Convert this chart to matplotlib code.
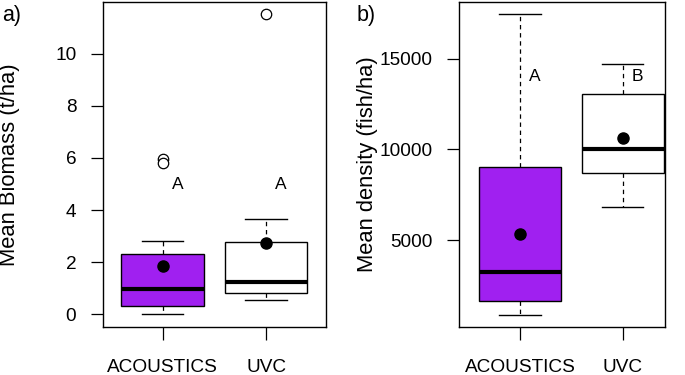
import matplotlib
matplotlib.use("Agg")
import matplotlib.pyplot as plt

plt.rcParams["font.family"] = ["Liberation Sans", "DejaVu Sans"]

# valores
metodos = ["ACOUSTICS", "UVC"]
colores = ["#A020F0", "white"]

# a) biomasa media (t/ha)
bio_min = [0.0, 0.56]
bio_q1 = [0.33, 0.83]
bio_med = [0.98, 1.25]
bio_q3 = [2.30, 2.76]
bio_max = [2.83, 3.65]
bio_media = [1.86, 2.72]
bio_atipicos = [[5.96, 5.82], [11.53]]
bio_letras = ["A", "A"]
bio_letra_y = 5.0

# b) densidad media (fish/ha)
den_min = [908, 6834]
den_q1 = [1641, 8706]
den_med = [3238, 10028]
den_q3 = [9036, 13040]
den_max = [17483, 14730]
den_media = [5369, 10655]
den_atipicos = [[], []]
den_letras = ["A", "B"]
den_letra_y = 14000


def dibujar_panel(ax, mins, q1s, meds, q3s, maxs, medias, atipicos, letras, letra_y):
    stats = []
    for i in range(len(metodos)):
        stats.append({
            "whislo": mins[i], "q1": q1s[i], "med": meds[i],
            "q3": q3s[i], "whishi": maxs[i], "fliers": atipicos[i],
            "label": metodos[i],
        })
    pos = list(range(1, len(metodos) + 1))
    cajas = ax.bxp(stats, positions=pos, widths=0.8, capwidths=0.4,
                   patch_artist=True, showfliers=True,
                   boxprops=dict(edgecolor="black", linewidth=1.0),
                   medianprops=dict(color="black", linewidth=3.0, solid_capstyle="butt"),
                   whiskerprops=dict(color="black", linewidth=0.9, linestyle=(0, (3.5, 3))),
                   capprops=dict(color="black", linewidth=1.0),
                   flierprops=dict(marker="o", markersize=7.5, markerfacecolor="white",
                                   markeredgecolor="black", markeredgewidth=0.9))
    for caja, color in zip(cajas["boxes"], colores):
        caja.set_facecolor(color)
    ax.plot(pos, medias, "o", color="black", markersize=8, zorder=5)
    for i in range(len(letras)):
        ax.text(pos[i] + 0.145, letra_y, letras[i], ha="center", va="center", fontsize=12.5)
    ax.tick_params(direction="out", length=9, width=0.9, labelsize=13.7)
    ax.tick_params(axis="x", pad=14)
    ax.tick_params(axis="y", pad=10)
    for lado in ax.spines.values():
        lado.set_linewidth(1.0)


fig = plt.figure(figsize=(6.85, 3.75), dpi=100)

ax1 = fig.add_axes([0.150, 0.129, 0.326, 0.866])
dibujar_panel(ax1, bio_min, bio_q1, bio_med, bio_q3, bio_max, bio_media,
              bio_atipicos, bio_letras, bio_letra_y)
ax1.set_xlim(0.42, 2.58)
ax1.set_ylim(-0.47, 11.99)
ax1.set_yticks([0, 2, 4, 6, 8, 10])
ax1.set_ylabel("Mean Biomass (t/ha)", fontsize=15.8)
ax1.yaxis.set_label_coords(-0.37, 0.5)

ax2 = fig.add_axes([0.6705, 0.129, 0.3003, 0.866])
dibujar_panel(ax2, den_min, den_q1, den_med, den_q3, den_max, den_media,
              den_atipicos, den_letras, den_letra_y)
ax2.set_xlim(0.41, 2.41)
ax2.set_ylim(245, 18130)
ax2.set_yticks([5000, 10000, 15000])
ax2.set_ylabel("Mean density (fish/ha)", fontsize=15.8)
ax2.yaxis.set_label_coords(-0.395, 0.5)

fig.text(0.003, 0.958, "a)", fontsize=15.5, va="center", ha="left")
fig.text(0.521, 0.958, "b)", fontsize=15.5, va="center", ha="left")

fig.savefig("out.png", dpi=100)
